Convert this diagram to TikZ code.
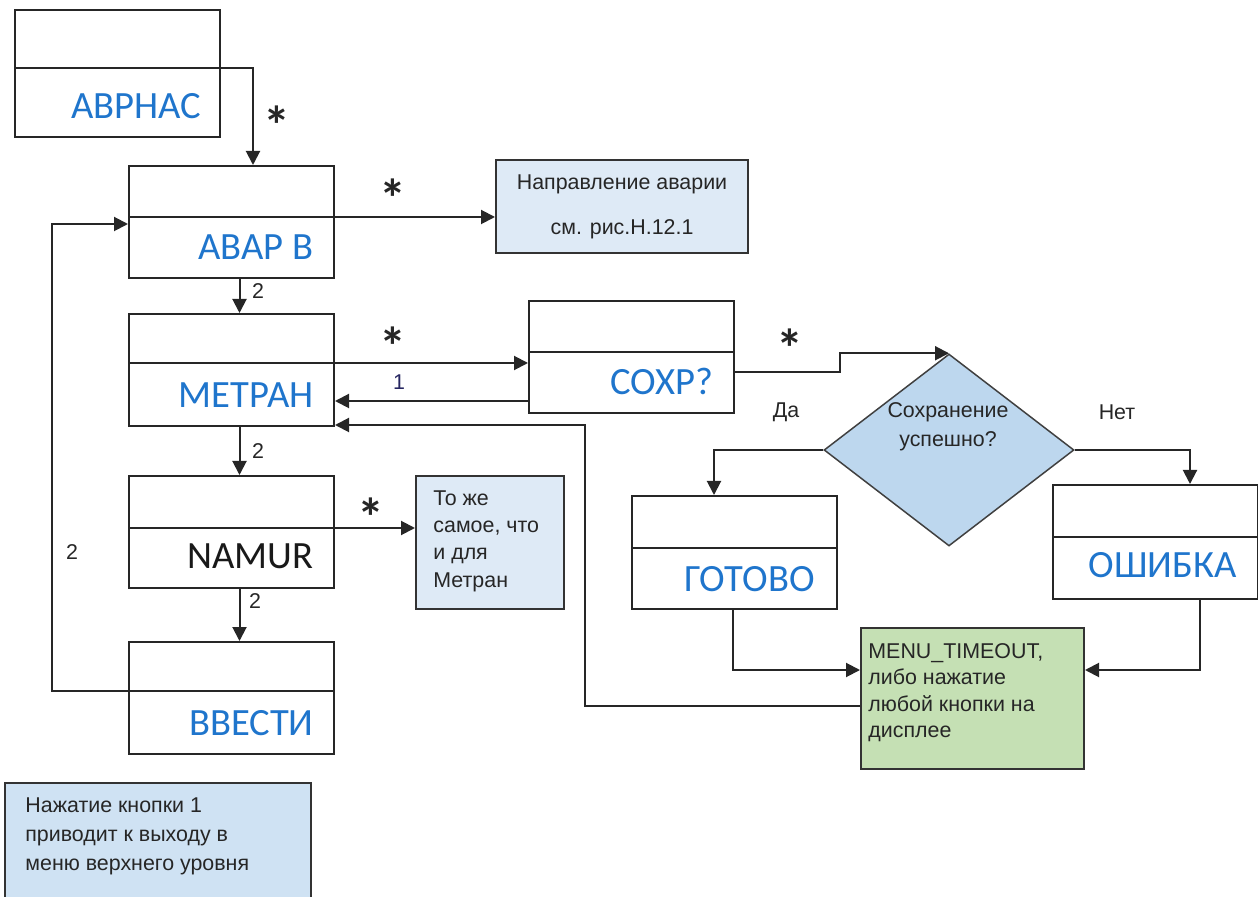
\documentclass[tikz,border=0pt]{standalone}
\usepackage{fontspec}
\setmainfont{Liberation Sans}
\newfontfamily\calibrifont{Carlito}
\usepackage{tikz}
\usetikzlibrary{calc,shapes.geometric,arrows.meta}
\definecolor{menublue}{HTML}{1F75CC}
\definecolor{infoblue}{HTML}{DEEAF6}
\definecolor{noteblue}{HTML}{CFE2F3}
\definecolor{diamondblue}{HTML}{BDD7EE}
\definecolor{timeoutgreen}{HTML}{C5E0B4}
\definecolor{numnavy}{HTML}{262661}

\begin{document}
\begin{tikzpicture}[x=0.5pt, y=-0.5pt,
    menubox/.style={draw=black!85, line width=1pt, minimum width=102.5pt, minimum height=56pt, inner sep=0pt, anchor=north west},
    menulabel/.style={font=\calibrifont\fontsize{19.3}{21}\selectfont, text=menublue, inner sep=0pt, anchor=base east},
    divider/.style={draw=black!85, line width=1pt},
    infobox/.style={draw=black!80, line width=1pt, inner sep=0pt, anchor=north west},
    infotext/.style={text=black!85, align=left, inner sep=0pt, anchor=north west},
    flow/.style={draw=black!85, line width=1pt, -{Triangle[length=7pt, width=7pt]}},
    starmark/.style={font=\calibrifont\bfseries\fontsize{27}{27}\selectfont, text=black!85, inner sep=0pt, text height=0.72em, text depth=-0.3em},
    small/.style={font=\fontsize{10.7}{12}\selectfont, text=black!85, inner sep=0pt}]
    \useasboundingbox (0,0) rectangle (1258,897);
    % left column of menu screens
    \node[menubox, minimum height=63.5pt] (avrnas) at (14,9) {};
    \coordinate (avrnas-de) at ($(avrnas.north east)+(0,59)$);
    \draw[divider] ($(avrnas.north west)+(0,59)$) -- (avrnas-de);
    \node[menulabel] (avrnas-t) at ($(avrnas.south east)+(-20,-19)$) {АВРНАС};
    \node[menubox] (avar) at (128,165) {};
    \coordinate (avar-de) at ($(avar.north east)+(0,52)$);
    \draw[divider] ($(avar.north west)+(0,52)$) -- (avar-de);
    \node[menulabel] (avar-t) at ($(avar.south east)+(-21,-19)$) {АВАР В};
    \node[menubox] (metran) at (128,313) {};
    \coordinate (metran-de) at ($(metran.north east)+(0,50)$);
    \draw[divider] ($(metran.north west)+(0,50)$) -- (metran-de);
    \node[menulabel] (metran-t) at ($(metran.south east)+(-21,-19)$) {МЕТРАН};
    \node[menubox] (namur) at (128,475) {};
    \coordinate (namur-de) at ($(namur.north east)+(0,53)$);
    \draw[divider] ($(namur.north west)+(0,53)$) -- (namur-de);
    \node[menulabel, text=black!90] (namur-t) at ($(namur.south east)+(-21,-20)$) {NAMUR};
    \node[menubox] (vvesti) at (128,641) {};
    \coordinate (vvesti-dw) at ($(vvesti.north west)+(0,50)$);
    \draw[divider] (vvesti-dw) -- ($(vvesti.north east)+(0,50)$);
    \node[menulabel] (vvesti-t) at ($(vvesti.south east)+(-21,-20)$) {ВВЕСТИ};
    % saving branch
    \node[menubox] (soxr) at (528,300) {};
    \draw[divider] ($(soxr.north west)+(0,52)$) -- ($(soxr.north east)+(0,52)$);
    \coordinate (soxr-back) at ($(soxr.south west)+(0,-13)$);
    \node[menulabel] (soxr-t) at ($(soxr.south east)+(-21,-19)$) {СОХР?};
    \node[diamond, draw=black!75, line width=0.75pt, fill=diamondblue, minimum width=125pt, minimum height=96pt, inner sep=0pt] (saved) at (949,450) {};
    \node[small, align=center, font=\fontsize{10.7}{14.5}\selectfont] (saved-t) at (948,427) {Сохранение\\успешно?};
    \node[menubox, minimum height=56.5pt] (gotovo) at (631,495) {};
    \draw[divider] ($(gotovo.north west)+(0,53)$) -- ($(gotovo.north east)+(0,53)$);
    \node[menulabel] (gotovo-t) at ($(gotovo.south east)+(-23,-19)$) {ГОТОВО};
    \node[menubox, minimum height=57pt] (oshibka) at (1052,484) {};
    \draw[divider] ($(oshibka.north west)+(0,53)$) -- ($(oshibka.north east)+(0,53)$);
    \node[menulabel] (oshibka-t) at ($(oshibka.south east)+(-22,-22)$) {ОШИБКА};
    % side notes
    \node[infobox, fill=infoblue, minimum width=126pt, minimum height=46.5pt, align=center, text=black!85, font=\fontsize{10.7}{22.5}\selectfont] (napr) at (495,159) {Направление аварии\\см. рис.Н.12.1};
    \node[infobox, fill=infoblue, minimum width=74pt, minimum height=66.5pt] (toje) at (415,475) {};
    \node[infotext, font=\fontsize{10.7}{13.7}\selectfont] (toje-t) at (433,490) {То же\\самое, что\\и для\\Метран};
    \node[infobox, fill=timeoutgreen, minimum width=111.5pt, minimum height=70.5pt] (timeout) at (860,627) {};
    \node[infotext, font=\fontsize{10.7}{13.25}\selectfont] (timeout-t) at (868,643) {MENU\_TIMEOUT,\\либо нажатие\\любой кнопки на\\дисплее};
    \node[infobox, fill=noteblue, minimum width=153pt, minimum height=64pt] (exitbox) at (4,782) {};
    \node[infotext, font=\fontsize{10.7}{14.5}\selectfont] (exitbox-t) at (25,797) {Нажатие кнопки 1\\приводит к выходу в\\меню верхнего уровня};
    % connectors of the left column
    \draw[flow] (avrnas-de) -| ($(avar.north west)+(125,0)$);
    \draw[flow] (avar-de) -- (avar-de -| napr.west);
    \draw[flow] ($(avar.south)+(8,0)$) -- ($(metran.north)+(8,0)$);
    \draw[flow] (metran-de) -- (metran-de -| soxr.west);
    \draw[flow] (soxr-back) -- (soxr-back -| metran.east);
    \draw[flow] ($(metran.south)+(8,0)$) -- ($(namur.north)+(8,0)$);
    \draw[flow] (namur-de) -- (namur-de -| toje.west);
    \draw[flow] ($(namur.south)+(8,0)$) -- ($(vvesti.north)+(8,0)$);
    \draw[flow] (vvesti-dw) -- ++(-76,0) |- ($(avar.north west)+(0,59)$);
    % connectors of the saving branch
    \draw[flow] ($(soxr.north east)+(0,72)$) -- ++(105,0) |- (saved.north);
    \draw[flow] (saved.west) -| ($(gotovo.north west)+(83,0)$);
    \draw[flow] (saved.east) -| ($(oshibka.north west)+(138,0)$);
    \draw[flow] ($(gotovo.south west)+(102,0)$) |- ($(timeout.north west)+(0,43)$);
    \draw[flow] ($(oshibka.south west)+(148,0)$) |- ($(timeout.north east)+(0,43)$);
    \draw[flow] ($(timeout.north west)+(0,79)$) -| ($(metran.south east)+(250,-2)$) -- ($(metran.south east)+(0,-2)$);
    % key marks and numbers
    \node[starmark] (star1) at (277,137) {*};
    \node[starmark] (star2) at (393,210) {*};
    \node[starmark] (star3) at (393,358) {*};
    \node[starmark] (star4) at (790,360) {*};
    \node[starmark] (star5) at (371,529) {*};
    \node[small] (key1) at (258,291) {2};
    \node[small] (key2) at (258,451) {2};
    \node[small] (key3) at (255,601) {2};
    \node[small] (key4) at (72,552) {2};
    \node[small, text=numnavy] (key5) at (399,382) {1};
    \node[small] (yes) at (786,412) {Да};
    \node[small] (no) at (1117,412) {Нет};
  \end{tikzpicture}
\end{document}
